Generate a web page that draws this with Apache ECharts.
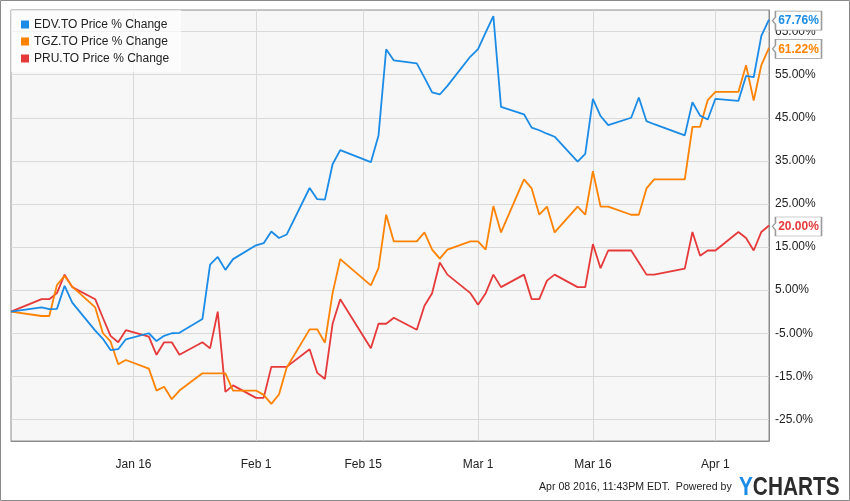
<!DOCTYPE html>
<html>
<head>
<meta charset="utf-8">
<script src="https://cdn.jsdelivr.net/npm/echarts@6/dist/echarts.min.js"></script>
<style>
html,body{margin:0;padding:0;background:#fff;}
#chart{width:850px;height:501px;}
</style>
</head>
<body>
<div id="chart"></div>
<script>
// Trading dates
const dates = [
  '2015-12-31','2016-01-04','2016-01-05','2016-01-06','2016-01-07','2016-01-08',
  '2016-01-11','2016-01-12','2016-01-13','2016-01-14','2016-01-15',
  '2016-01-18','2016-01-19','2016-01-20','2016-01-21','2016-01-22',
  '2016-01-25','2016-01-26','2016-01-27','2016-01-28','2016-01-29',
  '2016-02-01','2016-02-02','2016-02-03','2016-02-04','2016-02-05',
  '2016-02-08','2016-02-09','2016-02-10','2016-02-11','2016-02-12',
  '2016-02-16','2016-02-17','2016-02-18','2016-02-19',
  '2016-02-22','2016-02-23','2016-02-24','2016-02-25','2016-02-26',
  '2016-02-29','2016-03-01','2016-03-02','2016-03-03','2016-03-04',
  '2016-03-07','2016-03-08','2016-03-09','2016-03-10','2016-03-11',
  '2016-03-14','2016-03-15','2016-03-16','2016-03-17','2016-03-18',
  '2016-03-21','2016-03-22','2016-03-23','2016-03-24',
  '2016-03-28','2016-03-29','2016-03-30','2016-03-31','2016-04-01',
  '2016-04-04','2016-04-05','2016-04-06','2016-04-07','2016-04-08'
];
const edv = [
  0, 1.0, 0.6, 0.65, 6.0, 2.1,
  -4.4, -6.3, -8.9, -8.7, -6.4,
  -5.0, -6.8, -5.6, -5.0, -4.9,
  -1.7, 10.9, 12.7, 9.7, 12.2,
  15.4, 15.9, 18.6, 17.1, 17.9,
  28.7, 26.1, 26.0, 34.2, 37.5,
  34.7, 40.9, 60.9, 58.3,
  57.6, 54.3, 50.9, 50.4, 52.4,
  59.2, 60.9, 64.8, 68.6, 47.5,
  45.8, 42.7, 42.1, 41.3, 40.6,
  34.8, 36.6, 49.4, 45.4, 43.3,
  45.0, 49.7, 44.2, 43.5,
  40.9, 48.6, 45.5, 44.6, 49.4,
  48.9, 54.7, 54.4, 64.0, 67.76
];
const tgz = [
  0, -1.0, -1.0, 6.2, 8.3, 5.8,
  1.0, -5.0, -6.9, -12.2, -11.2,
  -13.2, -18.3, -17.4, -20.3, -18.3,
  -14.3, -14.3, -14.3, -14.3, -18.3,
  -18.3, -19.3, -21.4, -19.2, -13.0,
  -4.1, -4.1, -7.2, 4.3, 12.2,
  6.1, 10.1, 22.5, 16.3,
  16.3, 18.4, 14.4, 12.3, 14.4,
  16.3, 16.3, 14.4, 24.5, 18.4,
  30.7, 28.6, 22.5, 24.4, 18.4,
  24.4, 22.5, 32.6, 24.4, 24.4,
  22.5, 22.5, 28.6, 30.7,
  30.7, 42.9, 42.9, 49.1, 51.0,
  51.0, 57.2, 49.0, 57.2, 61.22
];
const pru = [
  0, 2.9, 2.9, 4.3, 8.6, 5.7,
  2.9, -1.4, -5.6, -7.1, -4.3,
  -5.8, -10.0, -7.1, -7.1, -10.0,
  -7.1, -8.5, 0.0, -18.6, -17.1,
  -20.0, -20.0, -12.8, -12.8, -12.8,
  -8.7, -14.2, -15.6, -2.8, 2.9,
  -8.5, -2.8, -2.8, -1.4,
  -4.2, 1.4, 4.3, 11.4, 8.6,
  4.3, 1.6, 4.3, 8.6, 5.7,
  8.6, 2.9, 2.9, 7.2, 8.6,
  5.7, 5.7, 15.7, 10.1, 14.2,
  14.2, 11.4, 8.6, 8.6,
  10.0, 18.5, 13.0, 14.2, 14.2,
  18.5, 17.1, 14.2, 18.5, 20.0
];
const seriesNames = ['EDV.TO Price % Change','TGZ.TO Price % Change','PRU.TO Price % Change'];
const seriesColors = ['#1a8be6','#ff8200','#e63a3a'];
const yTicks = [-25,-15,-5,5,15,25,35,45,55,65];
const yTickLabels = ['-25.0%','-15.0%','-5.00%','5.00%','15.00%','25.00%','35.00%','45.00%','55.00%','65.00%'];
const xTicks = ['2016-01-16','2016-02-01','2016-02-15','2016-03-01','2016-03-16','2016-04-01'];
const xTickLabels = ['Jan 16','Feb 1','Feb 15','Mar 1','Mar 16','Apr 1'];
const footerText = 'Apr 08 2016, 11:43PM EDT.  Powered by';

const ts = d => Date.UTC(+d.slice(0,4), +d.slice(5,7) - 1, +d.slice(8,10));
const xTickTs = xTicks.map(ts);
const allSeries = [edv, tgz, pru];
const lastIdx = dates.length - 1;

const chart = echarts.init(document.getElementById('chart'), null, {renderer:'canvas'});
const option = {
  animation: false,
  backgroundColor: '#fff',
  grid: {left: 11, right: 81, top: 10, bottom: 60, show: true, backgroundColor: '#f7f7f7', borderColor: '#8c8c8c', borderWidth: 1},
  legend: {
    orient: 'vertical', left: 11, top: 10,
    padding: [8, 12, 7, 10],
    backgroundColor: 'rgba(255,255,255,0.65)',
    icon: 'rect', itemWidth: 8, itemHeight: 8, itemGap: 4,
    data: seriesNames,
    textStyle: {fontFamily: 'Liberation Sans, Arial, sans-serif', fontSize: 12, color: '#222', lineHeight: 13}
  },
  xAxis: {
    type: 'value',
    min: ts('2015-12-31'), max: ts('2016-04-08'),
    axisLine: {show: true, onZero: false, lineStyle: {color: '#8c8c8c'}},
    axisTick: {show: false, customValues: xTickTs},
    splitLine: {show: true, lineStyle: {color: '#d9d9d9', width: 1}},
    axisLabel: {
      customValues: xTickTs,
      margin: 18,
      fontFamily: 'Liberation Sans, Arial, sans-serif',
      fontSize: 12, color: '#222',
      formatter: v => { const i = xTickTs.indexOf(v); return i >= 0 ? xTickLabels[i] : ''; }
    }
  },
  yAxis: {
    type: 'value', position: 'right',
    min: -30, max: 70,
    axisLine: {show: true, onZero: false, lineStyle: {color: '#8c8c8c'}},
    axisTick: {show: false, customValues: yTicks},
    splitLine: {show: true, lineStyle: {color: '#d9d9d9', width: 1}},
    axisLabel: {
      customValues: yTicks,
      margin: 6,
      fontFamily: 'Liberation Sans, Arial, sans-serif',
      fontSize: 12, color: '#222',
      formatter: v => { const i = yTicks.indexOf(v); return i >= 0 ? yTickLabels[i] : ''; }
    }
  },
  series: seriesNames.map((name, k) => ({
    name: name,
    type: 'line',
    showSymbol: false,
    symbol: 'none',
    color: seriesColors[k],
    lineStyle: {width: 1.8, color: seriesColors[k]},
    data: dates.map((d, i) => [ts(d), allSeries[k][i]]),
    markPoint: {
      silent: true,
      symbol: 'path://M0,9.5 L3,6 L3,0 L50,0 L50,19 L3,19 L3,13 Z',
      symbolSize: [49, 19],
      symbolOffset: [28, 1],
      symbolKeepAspect: false,
      itemStyle: {color: '#ffffff', opacity: 1, borderColor: '#9a9a9a', borderWidth: 1},
      label: {
        show: true, position: 'inside', offset: [1.5, 0.5],
        formatter: p => p.value.toFixed(2) + '%',
        color: seriesColors[k],
        fontFamily: 'Liberation Sans, Arial, sans-serif',
        fontWeight: 'bold', fontSize: 12
      },
      data: [{coord: [ts(dates[lastIdx]), allSeries[k][lastIdx]], value: allSeries[k][lastIdx]}]
    },
    z: 3 - k
  })),
  graphic: [
    {type: 'rect', shape: {x: 0.5, y: 0.5, width: 849, height: 500}, style: {fill: 'none', stroke: '#8a8a8a', lineWidth: 1}, silent: true, z: -1},
    {type: 'text', x: 539, y: 481, style: {text: footerText, font: '11.5px "Liberation Sans", Arial, sans-serif', fill: '#222'}, scaleX: 0.92},
    {type: 'text', x: 739, y: 475, scaleX: 0.8, style: {rich: {y: {fill: '#1a8be6', font: 'bold 26px "Liberation Sans", Arial, sans-serif'}, c: {fill: '#2b2b2b', font: 'bold 26px "Liberation Sans", Arial, sans-serif'}}, text: '{y|Y}{c|CHARTS}'}}
  ]
};
chart.setOption(option);
</script>
</body>
</html>
